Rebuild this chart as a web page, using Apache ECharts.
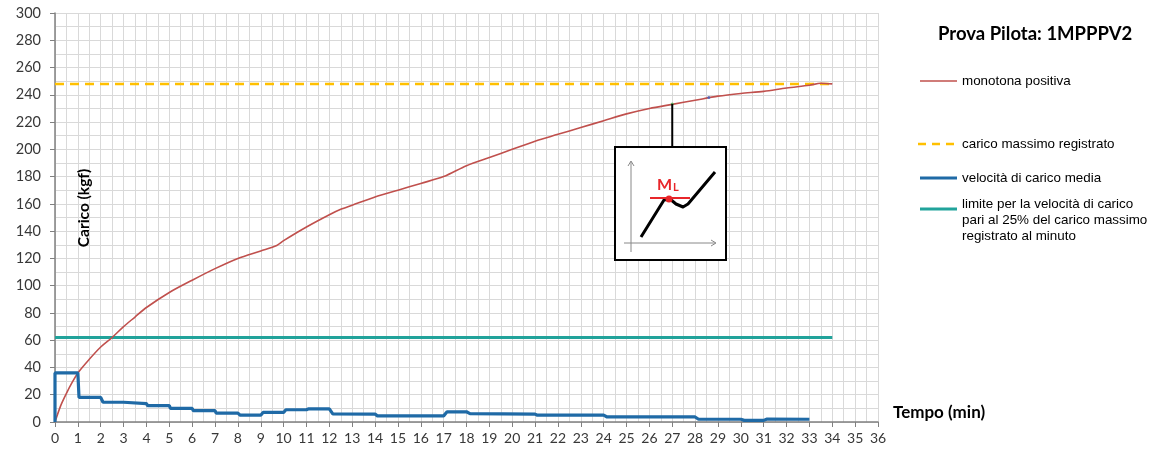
<!DOCTYPE html>
<html>
<head>
<meta charset="utf-8">
<script src="https://cdn.jsdelivr.net/npm/echarts@6/dist/echarts.min.js"></script>
<style>
html,body{margin:0;padding:0;background:#fff;}
#c{width:1153px;height:454px;}
</style>
</head>
<body>
<div id="c"></div>
<script>
// ---- data ----
const titleText = 'Prova Pilota: 1MPPPV2';
const xTicks = [0,36];
const yTicks = [0,300];
const monotonaX = [0,0.25,0.5,0.75,1,1.5,2,2.5,3,3.5,4,5,6,7,8,9,9.7,10,11,12,12.5,13,14,15,16,17,18,19,20,21,22,23,24,25,26,27,28,29,30,31,32,33,33.5,34];
const monotonaY = [0,12,21,29,36,46,55,62,70,77,84,95,104,112.5,120,125.5,129.5,133,143,152,156,159,165,170,175,180,188,194,200,206,211,216,221,226,230,233,236,239,241,242.5,245,247,248.5,248];
const velocitaX = [0,0,1,1.05,2,2.1,3,3.05,4,4.05,5,5.05,6,6.05,7,7.05,8,8.1,9,9.1,10,10.1,11,11.1,12,12.15,14,14.1,17,17.15,18,18.15,21,21.1,24,24.15,28,28.15,30,30.15,31,31.15,33];
const velocitaY = [0,36,36,18,18,14.5,14.5,13.5,13.5,12,12,10,10,8.3,8.3,6.5,6.5,5,5,7,7,9,9,9.7,9.7,6,5.8,4.5,4.5,7.5,7.5,6.2,5.8,5,5,3.7,3.7,2,2,1.2,1.2,2.2,2];
const caricoMaxX = [0,34];
const caricoMaxY = [248,248];
const limiteX = [0,34];
const limiteY = [62,62];
const markX = [27,28.6];
const markY = [233.3,238];
const legendNames = ['monotona positiva','carico massimo registrato','velocità di carico media','limite per la velocità di carico\npari al 25% del carico massimo\nregistrato al minuto'];

const zip = (xs, ys) => xs.map((x,i)=>[x,ys[i]]);

const C_RED = '#c0504d', C_YEL = '#ffc000', C_BLUE = '#1f6aa6', C_TEAL = '#21a39b';
const FONT = 'Lato';
const chart = echarts.init(document.getElementById('c'));

const option = {
  animation:false,
  backgroundColor:'#ffffff',
  grid:{left:55,right:275,top:13,bottom:32,containLabel:false},
  xAxis:{
    type:'value', min:xTicks[0], max:xTicks[1], interval:1,
    axisLine:{show:true,onZero:false,lineStyle:{color:'#808080',width:1.5}},
    axisTick:{show:true,length:5,lineStyle:{color:'#808080'}},
    axisLabel:{color:'#383838',fontFamily:FONT,fontSize:14,margin:9},
    splitLine:{show:true,lineStyle:{color:'#d9d9d9',width:1}},
    minorTick:{show:false,splitNumber:2},
    minorSplitLine:{show:true,lineStyle:{color:'#d9d9d9',width:1}}
  },
  yAxis:{
    type:'value', min:yTicks[0], max:yTicks[1], interval:20,
    axisLine:{show:true,lineStyle:{color:'#808080',width:1.5}},
    axisTick:{show:true,length:5,lineStyle:{color:'#808080'}},
    axisLabel:{color:'#383838',fontFamily:FONT,fontSize:14.5,margin:14},
    splitLine:{show:true,lineStyle:{color:'#d9d9d9',width:1}},
    minorTick:{show:false,splitNumber:2},
    minorSplitLine:{show:true,lineStyle:{color:'#d9d9d9',width:1}}
  },
  series:[
    {name:legendNames[3],type:'line',data:zip(limiteX,limiteY),showSymbol:false,lineStyle:{color:C_TEAL,width:3},z:3},
    {name:legendNames[1],type:'line',data:zip(caricoMaxX,caricoMaxY),showSymbol:false,lineStyle:{color:C_YEL,width:2.5,type:[9,6]},z:3},
    {name:legendNames[0],type:'line',data:zip(monotonaX,monotonaY),showSymbol:false,smooth:0.3,lineStyle:{color:C_RED,width:1.6},z:4},
    {name:legendNames[2],type:'line',data:zip(velocitaX,velocitaY),showSymbol:false,lineStyle:{color:C_BLUE,width:3.2},z:5},
    {type:'scatter',data:zip(markX,markY),symbolSize:3,itemStyle:{color:function(p){return p.dataIndex===0?'#4caf50':'#3f5fbf';}},z:6,silent:true}
  ]
};
chart.setOption(option);

// annotation + legend graphics
const anchor = chart.convertToPixel({gridIndex:0},[markX[0],markY[0]]);
const bx=615, by=147, bw=111, bh=113;
const g = [];
g.push({type:'line',shape:{x1:anchor[0],y1:anchor[1],x2:anchor[0],y2:by},style:{stroke:'#000',lineWidth:2},z:10});
g.push({type:'rect',shape:{x:bx,y:by,width:bw,height:bh},style:{fill:'#fff',stroke:'#000',lineWidth:2},z:10});
g.push({type:'line',shape:{x1:631,y1:252,x2:631,y2:162},style:{stroke:'#888',lineWidth:1},z:11});
g.push({type:'polyline',shape:{points:[[628,166],[631,161],[634,166]]},style:{stroke:'#888',fill:null,lineWidth:1},z:11});
g.push({type:'line',shape:{x1:624,y1:243,x2:715,y2:243},style:{stroke:'#888',lineWidth:1},z:11});
g.push({type:'polyline',shape:{points:[[711,240],[716,243],[711,246]]},style:{stroke:'#888',fill:null,lineWidth:1},z:11});
g.push({type:'polyline',shape:{points:[[641,237],[664,200],[670,199],[676,204],[683,207],[688,204],[715,172]]},style:{stroke:'#000',lineWidth:3,fill:null,lineJoin:'round'},z:12});
g.push({type:'line',shape:{x1:650,y1:198,x2:690,y2:198},style:{stroke:'#e8262a',lineWidth:2},z:13});
g.push({type:'circle',shape:{cx:669,cy:199,r:3.5},style:{fill:'#e8262a'},z:14});
g.push({type:'text',x:657,y:193,style:{text:'M',fill:'#e8262a',font:'bold 16px Lato',textVerticalAlign:'bottom'},z:14});
g.push({type:'text',x:673,y:193,style:{text:'L',fill:'#e8262a',font:'bold 11px Lato',textVerticalAlign:'bottom'},z:14});

// axis titles
g.push({type:'text',x:84,y:208,rotation:Math.PI/2,style:{text:'Carico (kgf)',fill:'#000',font:'bold 15.5px Lato',textAlign:'center',textVerticalAlign:'middle'},z:10});
g.push({type:'text',x:893,y:413,style:{text:'Tempo (min)',fill:'#000',font:'bold 17px Lato',textAlign:'left',textVerticalAlign:'middle'},z:10});

// title
g.push({type:'text',x:938,y:34,style:{text:titleText,fill:'#000',font:'bold 18.5px Lato',textAlign:'left',textVerticalAlign:'middle'},z:10});

// legend
const lf = '13.4px "Liberation Sans"';
g.push({type:'line',shape:{x1:920,y1:81,x2:957,y2:81},style:{stroke:C_RED,lineWidth:1.6}});
g.push({type:'text',x:962,y:81,style:{text:legendNames[0],fill:'#000',font:lf,textVerticalAlign:'middle'}});
g.push({type:'line',shape:{x1:918,y1:144,x2:958,y2:144},style:{stroke:C_YEL,lineWidth:2.5,lineDash:[8,6]}});
g.push({type:'text',x:962,y:144,style:{text:legendNames[1],fill:'#000',font:lf,textVerticalAlign:'middle'}});
g.push({type:'line',shape:{x1:920,y1:178,x2:957,y2:178},style:{stroke:C_BLUE,lineWidth:3}});
g.push({type:'text',x:962,y:178,style:{text:legendNames[2],fill:'#000',font:lf,textVerticalAlign:'middle'}});
g.push({type:'line',shape:{x1:920,y1:209,x2:957,y2:209},style:{stroke:C_TEAL,lineWidth:3}});
g.push({type:'text',x:962,y:220,style:{text:legendNames[3],fill:'#000',font:lf,textVerticalAlign:'middle',lineHeight:16}});

chart.setOption({graphic:g});
</script>
</body>
</html>
